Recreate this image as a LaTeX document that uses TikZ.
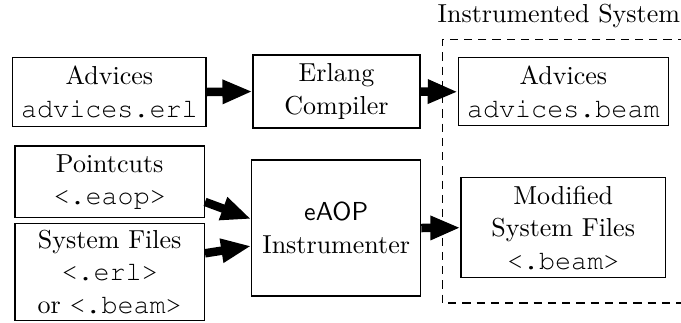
\documentclass[tikz,border=0pt]{standalone}
\usepackage{fontspec}
\usetikzlibrary{arrows.meta,calc}
\newcommand\cour[1]{{\fontencoding{T1}\fontfamily{pcr}\fontsize{10.7}{13}\selectfont #1}}
\begin{document}
\begin{tikzpicture}[x=0.4pt,y=-0.4pt,
  txt/.style={font=\fontsize{10.4}{13}\selectfont},
  box/.style={txt, draw, line width=0.45pt, inner sep=0pt, align=center},
  fat/.style={line width=3.4pt, -{Triangle[length=12pt,width=9pt]}},
  region/.style={line width=0.45pt, dash pattern=on 3.3pt off 2.4pt}]
\useasboundingbox (0,0) rectangle (681,322);
\clip (0,0) rectangle (681,322);
\node[box, minimum width=77.3pt, minimum height=27.6pt] (adv) at (109.4,92) {Advices\\\cour{advices.erl}};
\node[box, minimum width=66.8pt, minimum height=29.2pt] (erl) at (336.5,91.5) {Erlang\\Compiler};
\node[box, minimum width=84pt, minimum height=27.3pt] (advb) at (563.3,91.8) {Advices\\\cour{advices.beam}};
\node[box, minimum width=75.8pt, minimum height=28.7pt] (pc) at (109.7,181.9) {Pointcuts\\\cour{<.eaop>}};
\node[box, minimum width=75.8pt, inner ysep=2.5pt, anchor=north] (sys) at (109.7,223.3) {System Files\\\cour{<.erl>}\\or \cour{<.beam>}};
\node[box, minimum width=67.6pt, minimum height=54.4pt] (eaop) at (336.2,228) {{\sffamily eAOP}\\Instrumenter};
\node[box, minimum width=81.8pt, minimum height=40pt] (mod) at (563.2,227.7) {Modified\\System Files\\\cour{<.beam>}};
\node[txt, anchor=east, inner sep=0pt] (title) at (680.5,16) {Instrumented System};
\draw[region] (700,39.3) -- (442.3,39.3) -- (442.3,303) -- (700,303);
\draw[fat] (adv.east) -- (erl.west);
\draw[fat] (erl.east) -- (advb.west);
\draw[fat] ($(pc.east)+(0,20)$) -- ($(eaop.west)+(0,-9)$);
\draw[fat] ($(sys.north east)+(0,30)$) -- ($(eaop.west)+(0,18)$);
\draw[fat] (eaop.east) -- (mod.west);
\end{tikzpicture}
\end{document}
